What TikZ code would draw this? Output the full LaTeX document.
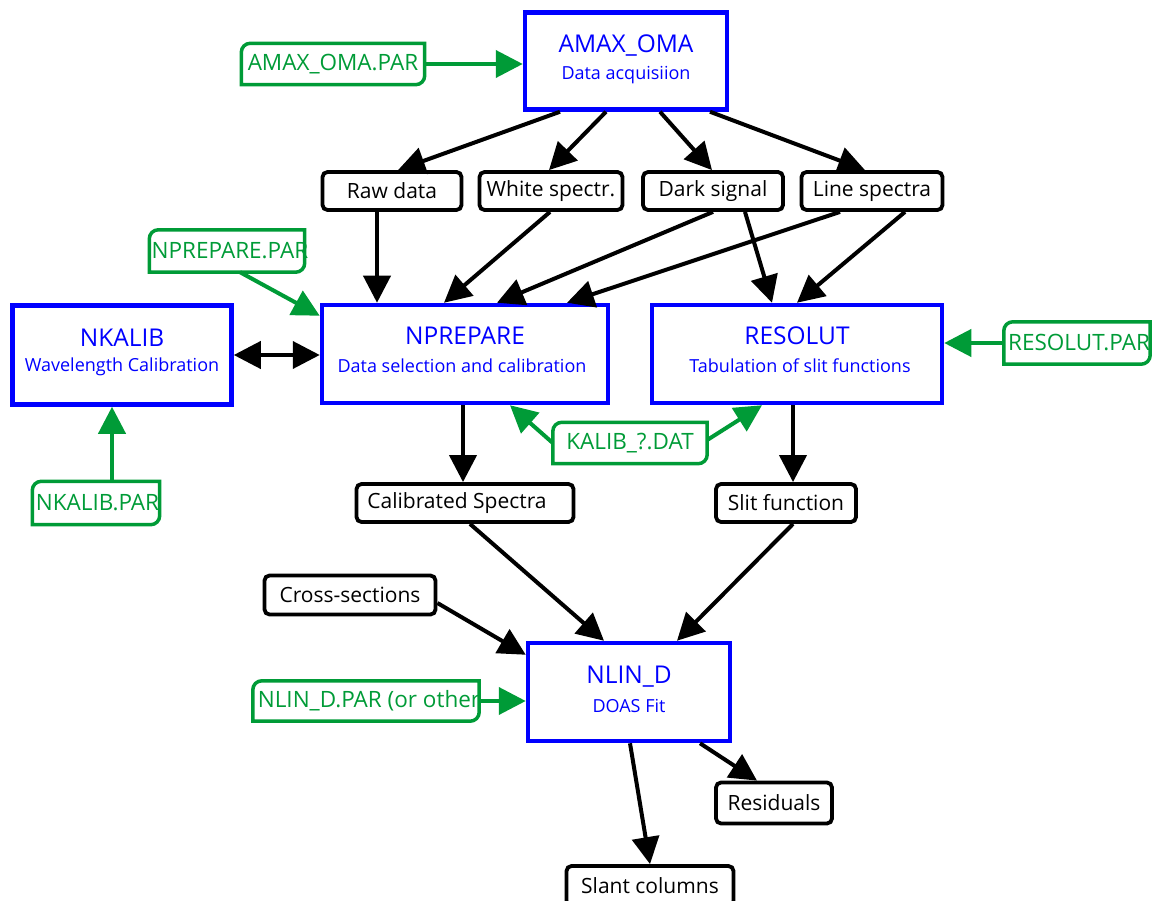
\documentclass[tikz,border=0pt]{standalone}
\usepackage{fontspec}
\setmainfont{Open Sans}
\usetikzlibrary{arrows.meta}
\definecolor{gr}{RGB}{0,155,55}
\definecolor{bl}{RGB}{0,0,255}
\newcommand\gbox[1]{\draw[gr, line width=3.5pt] (#1.west) [rounded corners=9pt] -- (#1.north west) -- (#1.north) [sharp corners] -- (#1.north east) -- (#1.east) [rounded corners=9pt] -- (#1.south east) -- (#1.south) [sharp corners] -- (#1.south west) -- cycle;}
\tikzset{
  blk/.style={draw=black, line width=3.8pt, rounded corners=5pt, fill=white, inner sep=0pt, font=\fontsize{21}{23}\selectfont},
  blu/.style={draw=bl, line width=4.5pt, inner sep=0pt, fill=white},
  btitle/.style={text=bl, inner sep=0pt, font=\fontsize{24.5}{26}\selectfont},
  bsub/.style={text=bl, inner sep=0pt, font=\fontsize{18}{20}\selectfont},
  grn/.style={text=gr, inner sep=0pt, font=\fontsize{22.5}{24}\selectfont},
  arr/.style={line width=4pt, -{Triangle[length=27pt,width=27pt]}},
  darr/.style={line width=4pt, {Triangle[length=27pt,width=27pt]}-{Triangle[length=27pt,width=27pt]}},
  garr/.style={arr, draw=gr, fill=gr}
}
\begin{document}
\begin{tikzpicture}[x=1pt,y=-1pt]
\useasboundingbox (0,0) rectangle (1154,901);
% blue process boxes
\node[blu, minimum width=202, minimum height=97] (amax) at (626,61) {};
\node[btitle] (amaxt) at (626,46) {AMAX\_OMA};
\node[bsub] (amaxs) at (626,75) {Data acquisiion};
\node[blu, minimum width=219, minimum height=99] (nkalib) at (122,355) {};
\node[btitle] (nkalibt) at (122,338) {NKALIB};
\node[bsub] (nkalibs) at (122,367) {Wavelength Calibration};
\node[blu, minimum width=286, minimum height=98] (npre) at (465,354) {};
\node[btitle] (npret) at (465,336) {NPREPARE};
\node[bsub] (npres) at (462,366) {Data selection and calibration};
\node[blu, minimum width=290, minimum height=98] (reso) at (797,354) {};
\node[btitle] (resot) at (797,336) {RESOLUT};
\node[bsub] (resos) at (800,366) {Tabulation of slit functions};
\node[blu, minimum width=202, minimum height=98] (nlin) at (629,692) {};
\node[btitle] (nlint) at (629,677) {NLIN\_D};
\node[bsub] (nlins) at (629,706) {DOAS Fit};
% black data boxes
\node[blk, minimum width=139, minimum height=38] (raw) at (392,191) {Raw data};
\node[blk, minimum width=143, minimum height=38] (white) at (551,191) {White spectr.};
\node[blk, minimum width=140, minimum height=38] (dark) at (713,191) {Dark signal};
\node[blk, minimum width=141, minimum height=38] (line) at (872,191) {Line spectra};
\node[blk, minimum width=217, minimum height=38] (calib) at (465,503) {\makebox[0pt]{\hspace*{-16pt}Calibrated Spectra}};
\node[blk, minimum width=140, minimum height=38] (slit) at (786,503) {Slit function};
\node[blk, minimum width=171, minimum height=39] (cross) at (350,595) {Cross-sections};
\node[blk, minimum width=116, minimum height=41] (resid) at (774,803) {Residuals};
\node[blk, minimum width=167, minimum height=40] (slant) at (650,886) {Slant columns};
% green parameter boxes
\node[grn, minimum width=183, minimum height=41] (amaxpar) at (333,64) {AMAX\_OMA.PAR};
\node[grn, minimum width=155, minimum height=42] (nprepar) at (227,251) {\makebox[0pt]{\hspace*{6pt}NPREPARE.PAR}};
\node[grn, minimum width=146, minimum height=42] (resopar) at (1077,343) {\makebox[0pt]{\hspace*{4pt}RESOLUT.PAR}};
\node[grn, minimum width=154, minimum height=41] (kalib) at (630,443) {KALIB\_?.DAT};
\node[grn, minimum width=127, minimum height=43] (nkpar) at (96,503) {\makebox[0pt]{\hspace*{3pt}NKALIB.PAR}};
\node[grn, minimum width=226, minimum height=40] (nlinpar) at (366,701) {\makebox[0pt]{\hspace*{6pt}NLIN\_D.PAR (or other}};
\gbox{amaxpar}
\gbox{nprepar}
\gbox{resopar}
\gbox{kalib}
\gbox{nkpar}
\gbox{nlinpar}
% green connectors
\draw[garr] (amaxpar.east) -- (amaxpar.east -| amax.west);
\draw[garr] ([xshift=13pt]nprepar.south) -- ([yshift=-13pt]npre.north west);
\draw[garr] (resopar.west) -- (resopar.west -| reso.east);
\draw[garr] ([xshift=16pt]nkpar.north) -- ([xshift=16pt]nkpar.north |- nkalib.south);
\draw[garr] (kalib.west) -- ([xshift=45pt]npre.south);
\draw[garr] ([yshift=3pt]kalib.east) -- ([xshift=-35pt]reso.south);
\draw[garr] (nlinpar.east) -- (nlinpar.east -| nlin.west);
% black connectors
\draw[arr] ([xshift=-66pt]amax.south) -- ([xshift=6pt]raw.north);
\draw[arr] ([xshift=-20pt]amax.south) -- ([xshift=-2pt]white.north);
\draw[arr] ([xshift=34pt]amax.south) -- ([xshift=-1pt]dark.north);
\draw[arr] ([xshift=84pt]amax.south) -- ([xshift=-7pt]line.north);
\draw[arr] ([xshift=-15pt]raw.south) -- ([xshift=-88pt]npre.north);
\draw[arr] ([xshift=-1pt]white.south) -- ([xshift=-21pt]npre.north);
\draw[arr] (dark.south) -- ([xshift=32pt]npre.north);
\draw[arr] ([xshift=32pt]dark.south) -- ([xshift=-25pt]reso.north);
\draw[arr] ([xshift=-32pt]line.south) -- ([xshift=102pt]npre.north);
\draw[arr] ([xshift=33pt]line.south) -- (reso.north);
\draw[darr] (nkalib.east) -- (nkalib.east -| npre.west);
\draw[arr] ([xshift=-2pt]npre.south) -- ([xshift=-2pt]calib.north);
\draw[arr] ([xshift=-4pt]reso.south) -- ([xshift=7pt]slit.north);
\draw[arr] ([xshift=5pt]calib.south) -- ([xshift=-25pt]nlin.north);
\draw[arr] ([xshift=7pt]slit.south) -- ([xshift=48pt]nlin.north);
\draw[arr] ([yshift=-8pt]cross.east) -- ([yshift=-14pt]nlin.north west);
\draw[arr] ([xshift=71pt]nlin.south) -- ([xshift=-17pt]resid.north);
\draw[arr] ([xshift=1pt]nlin.south) -- (slant.north);
\end{tikzpicture}
\end{document}
